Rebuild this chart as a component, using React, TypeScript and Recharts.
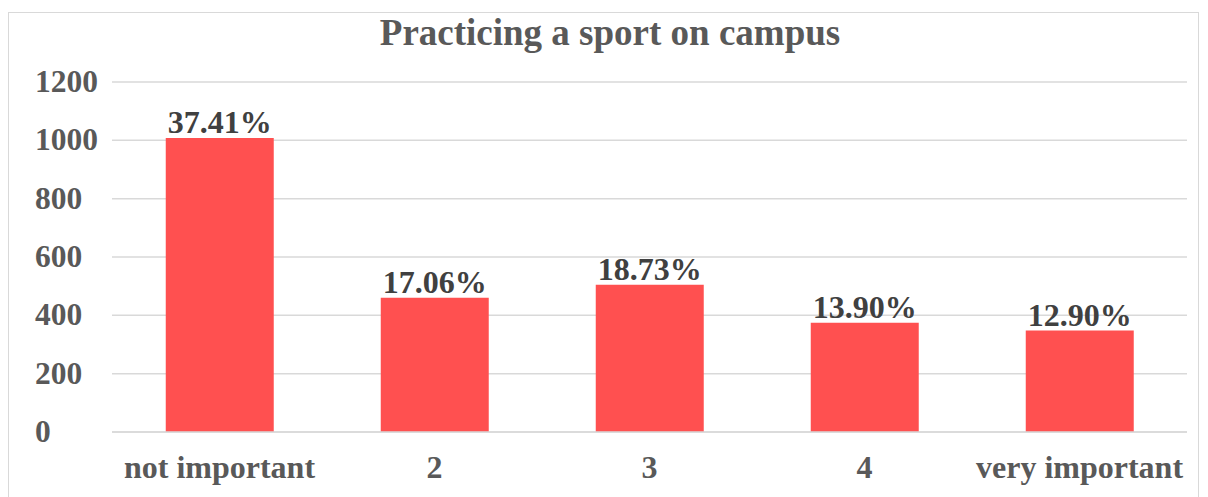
import React from "react";
import { BarChart, Bar, XAxis, YAxis, CartesianGrid, LabelList } from "recharts";

const CATEGORIES = ["not important", "2", "3", "4", "very important"];
const COUNTS = [1008, 460, 505, 375, 348];
const SHARES = ["37.41%", "17.06%", "18.73%", "13.90%", "12.90%"];
const Y_TICKS = [0, 200, 400, 600, 800, 1000, 1200];

const FONT = "'Liberation Serif', 'Times New Roman', serif";
const TEXT = "#595959";

const data = CATEGORIES.map((name, i) => ({ name, count: COUNTS[i], share: SHARES[i] }));

const YTick = (props: any) => {
  const { y, payload } = props;
  return (
    <text x={35} y={y} dy={10} textAnchor="start" fill={TEXT} fontFamily={FONT} fontWeight="bold" fontSize={31.5}>
      {payload.value}
    </text>
  );
};

export default function App() {
  return (
    <div style={{ position: "absolute", left: 0, top: 0, width: 1208, height: 497, background: "#fff", overflow: "hidden" }}>
      <div style={{ position: "absolute", left: 8, top: 12, width: 1191, height: 500, border: "1px solid #d9d9d9", boxSizing: "border-box" }} />
      <div style={{ position: "absolute", left: 0, top: 11, width: 1220, textAlign: "center", fontFamily: FONT, fontWeight: "bold", fontSize: 37, color: TEXT }}>
        Practicing a sport on campus
      </div>
      <div style={{ position: "absolute", left: 0, top: 0 }}>
        <BarChart width={1208} height={497} data={data} margin={{ top: 82, right: 21, left: 12, bottom: 15 }} barCategoryGap="25%">
          <CartesianGrid vertical={false} stroke="#d9d9d9" strokeWidth={1.5} />
          <YAxis
            width={100}
            domain={[0, 1200]}
            ticks={Y_TICKS}
            axisLine={false}
            tickLine={false}
            tick={<YTick />}
          />
          <XAxis
            dataKey="name"
            height={50}
            axisLine={{ stroke: "#d9d9d9", strokeWidth: 1.5 }}
            tickLine={false}
            tick={{ fill: TEXT, fontFamily: FONT, fontWeight: "bold", fontSize: 32 }}
            tickMargin={17}
            interval={0}
          />
          <Bar dataKey="count" fill="#FF5050" isAnimationActive={false}>
            <LabelList
              dataKey="share"
              position="top"
              offset={5}
              fill="#404040"
              fontFamily={FONT}
              fontWeight="bold"
              fontSize={32}
            />
          </Bar>
        </BarChart>
      </div>
    </div>
  );
}
